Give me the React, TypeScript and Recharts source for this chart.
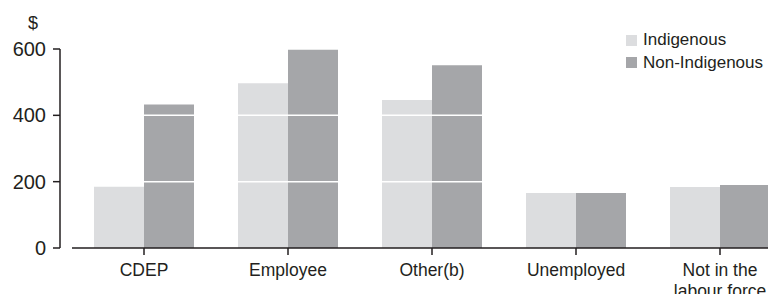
import React from "react";
import { BarChart, Bar, XAxis, YAxis, Legend, ReferenceLine } from "recharts";

const categories = [
	"CDEP",
	"Employee",
	"Other(b)",
	"Unemployed",
	"Not in the\nlabour force",
];
const indigenous = [185, 497, 446, 166, 184];
const nonIndigenous = [433, 598, 551, 166, 190];
const yTicks = [0, 200, 400, 600];
const barGridLines = [200, 400];
const seriesNames = ["Indigenous", "Non-Indigenous"];

const INK = "#231f20";
const LIGHT = "#dcdddf";
const DARK = "#a5a6a9";
const FONT = "'Liberation Sans', Arial, sans-serif";

const data = categories.map((category, i) => ({
	category,
	indigenous: indigenous[i],
	nonIndigenous: nonIndigenous[i],
}));

type TickProps = {
	x?: number;
	y?: number;
	payload?: { value: string };
};

function CategoryTick({ x, y, payload }: TickProps) {
	if (typeof x !== "number" || typeof y !== "number" || !payload) {
		return null;
	}
	const lines = String(payload.value).split("\n");
	return (
		<text x={x} y={y} textAnchor="middle" fill={INK} fontSize={17.5} fontFamily={FONT}>
			{lines.map((line, i) => (
				<tspan key={i} x={x} dy={i === 0 ? "0.72em" : 21}>
					{line}
				</tspan>
			))}
		</text>
	);
}

function renderLegend() {
	const colors = [LIGHT, DARK];
	return (
		<div style={{ fontFamily: FONT, fontSize: 17, color: INK, lineHeight: "22px" }}>
			{seriesNames.map((name, i) => (
				<div key={name} style={{ display: "flex", alignItems: "center", height: 22.5, whiteSpace: "nowrap" }}>
					<span
						style={{
							display: "inline-block",
							width: 11,
							height: 11,
							background: colors[i],
							marginRight: 6,
						}}
					/>
					{name}
				</div>
			))}
		</div>
	);
}

export default function App() {
	return (
		<div
			style={{
				margin: -8,
				width: 776,
				height: 302,
				overflow: "hidden",
				position: "relative",
				background: "#fff",
			}}
		>
			<BarChart
				width={800}
				height={302}
				data={data}
				margin={{ top: 49, right: 8, bottom: 0, left: 0 }}
				barGap={0}
				barCategoryGap={22}
			>
				{/* chart title sits above the crop; only the bottom of "(a)" shows */}
				<text x={331} y={-0.5} textAnchor="middle" fill={INK} fontSize={19} fontFamily={FONT}>
					(a)
				</text>
				<XAxis
					dataKey="category"
					height={54}
					padding={{ left: 12, right: 0 }}
					axisLine={{ stroke: INK, strokeWidth: 1.5, strokeDasharray: "0 12 2000" }}
					tickLine={{ stroke: INK, strokeWidth: 1.5 }}
					tickSize={7}
					tickMargin={8}
					tick={<CategoryTick />}
					interval={0}
				/>
				<YAxis
					width={60}
					domain={[0, 600]}
					ticks={yTicks}
					interval={0}
					axisLine={{ stroke: INK, strokeWidth: 1.5 }}
					tickLine={{ stroke: INK, strokeWidth: 1.5 }}
					tickSize={7}
					tickMargin={7}
					tick={{ fill: INK, fontSize: 20, fontFamily: FONT }}
					label={{
						value: "$",
						position: "top",
						offset: 20,
						dx: 3,
						fill: INK,
						fontSize: 18,
						fontFamily: FONT,
					}}
				/>
				<Legend
					layout="horizontal"
					verticalAlign="middle"
					content={renderLegend}
					wrapperStyle={{ top: 29, left: 626, width: 150 }}
				/>
				<Bar dataKey="indigenous" name={seriesNames[0]} fill={LIGHT} isAnimationActive={false} />
				<Bar dataKey="nonIndigenous" name={seriesNames[1]} fill={DARK} isAnimationActive={false} />
				{barGridLines.map((v) => (
					<ReferenceLine key={v} y={v} stroke="#ffffff" strokeWidth={1.5} />
				))}
			</BarChart>
		</div>
	);
}
